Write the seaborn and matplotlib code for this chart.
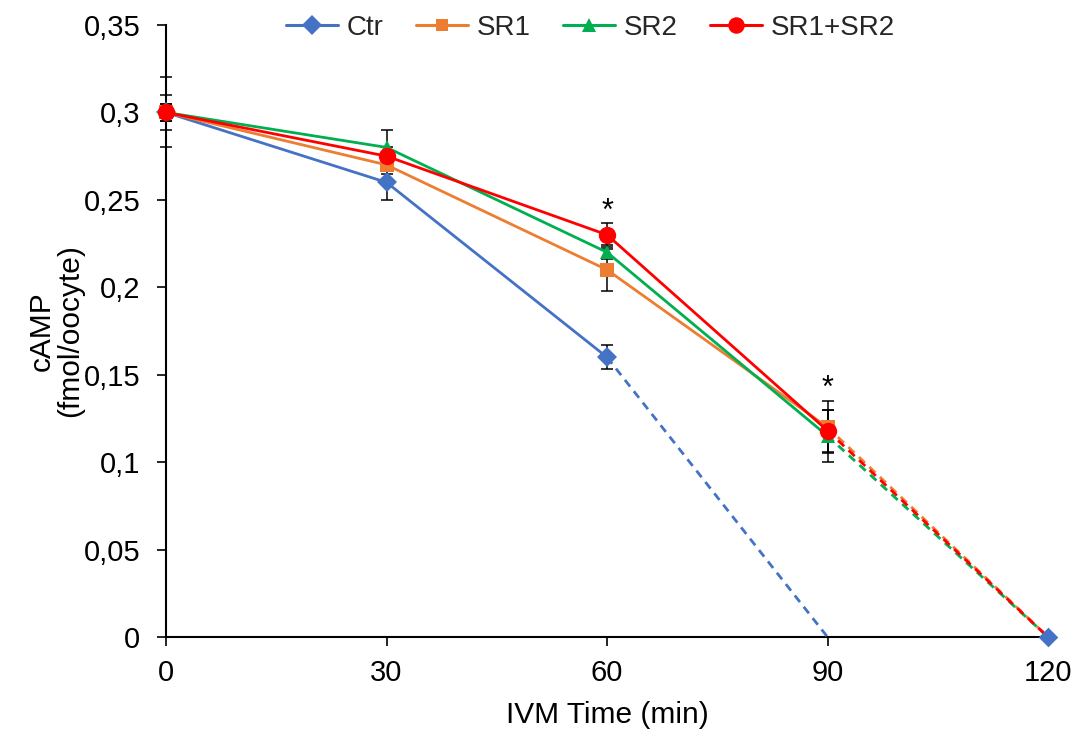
import matplotlib
matplotlib.use("Agg")
import matplotlib.pyplot as plt
import seaborn as sns
import pandas as pd
from matplotlib.ticker import FuncFormatter

# ---- data ----
times = [0, 30, 60, 90, 120]
series_names = ["Ctr", "SR1", "SR2", "SR1+SR2"]
ctr = [0.30, 0.26, 0.16, 0.0, 0.0]
sr1 = [0.30, 0.27, 0.21, 0.12, 0.0]
sr2 = [0.30, 0.28, 0.22, 0.115, 0.0]
sr12 = [0.30, 0.275, 0.23, 0.118, 0.0]
ctr_err = [0.02, 0.01, 0.007, 0.0, 0.0]
sr1_err = [0.01, 0.005, 0.012, 0.015, 0.0]
sr2_err = [0.005, 0.01, 0.004, 0.015, 0.0]
sr12_err = [0.005, 0.005, 0.007, 0.012, 0.0]
star_times = [60, 90]
star_values = [0.243, 0.142]
y_ticks = [0, 0.05, 0.1, 0.15, 0.2, 0.25, 0.3, 0.35]
x_ticks = [0, 30, 60, 90, 120]

sns.set_theme(style="white")
plt.rcParams['font.family'] = ['Liberation Sans', 'DejaVu Sans']

colors = {"Ctr": "#4472C4", "SR1": "#ED7D31", "SR2": "#00B050", "SR1+SR2": "#FF0000"}
markers = {"Ctr": "D", "SR1": "s", "SR2": "^", "SR1+SR2": "o"}
msizes = {"Ctr": 10.5, "SR1": 9.5, "SR2": 10, "SR1+SR2": 12.5}
values = {"Ctr": ctr, "SR1": sr1, "SR2": sr2, "SR1+SR2": sr12}
errs = {"Ctr": ctr_err, "SR1": sr1_err, "SR2": sr2_err, "SR1+SR2": sr12_err}
# last index of solid segment
solid_end = {"Ctr": 2, "SR1": 3, "SR2": 3, "SR1+SR2": 3}

fig = plt.figure(figsize=(10.83, 7.29), dpi=100)
ax = fig.add_axes([0.1533, 0.1262, 0.8144, 0.8395])

# error bars first (behind markers)
for name in series_names:
    n = solid_end[name] + 1
    eb = ax.errorbar(times[:n], values[name][:n], yerr=errs[name][:n], fmt="none",
                     ecolor="black", elinewidth=1.1, capsize=4.5, capthick=1.1, zorder=2)
    for art in eb.lines[1] + eb.lines[2]:
        art.set_clip_on(False)

handles = []
for i, name in enumerate(series_names):
    v = values[name]
    e = solid_end[name]
    df_solid = pd.DataFrame({"t": times[:e + 1], "v": v[:e + 1]})
    df_dash = pd.DataFrame({"t": times[e:e + 2], "v": v[e:e + 2]})
    sns.lineplot(data=df_dash, x="t", y="v", ax=ax, color=colors[name], lw=2,
                 linestyle=(0, (3, 2.2)), zorder=3 + i, clip_on=False)
    sns.lineplot(data=df_solid, x="t", y="v", ax=ax, color=colors[name], lw=2,
                 marker=markers[name], markersize=msizes[name], markeredgewidth=0,
                 zorder=3 + i, clip_on=False)
    h, = ax.plot([], [], color=colors[name], lw=2.2, marker=markers[name],
                 markersize=msizes[name] * 0.95, markeredgewidth=0)
    handles.append(h)

# Ctr marker at 120
sns.scatterplot(x=[times[4]], y=[ctr[4]], ax=ax, color=colors["Ctr"], marker="D",
                s=100, linewidth=0, zorder=10, clip_on=False)

for t, y in zip(star_times, star_values):
    ax.text(t, y, "*", ha="center", va="center", fontsize=22, color="black")

ax.set_xlim(0, 120)
ax.set_ylim(0, 0.35)
ax.set_xticks(x_ticks)
ax.set_yticks(y_ticks)
ax.yaxis.set_major_formatter(FuncFormatter(lambda v, p: ("%g" % round(v, 2)).replace(".", ",")))
ax.tick_params(axis="both", labelsize=21, direction="out", length=6.5, width=1.2,
               color="black", labelcolor="black", left=True, bottom=True)
ax.tick_params(axis="y", pad=12)
ax.tick_params(axis="x", pad=9)
for s in ["top", "right"]:
    ax.spines[s].set_visible(False)
for s in ["left", "bottom"]:
    ax.spines[s].set_color("black")
    ax.spines[s].set_linewidth(1.5)
ax.set_xlabel("IVM Time (min)", fontsize=21.5, color="black")
ax.set_ylabel("cAMP\n(fmol/oocyte)", fontsize=21.5, color="black", linespacing=1.0)
ax.xaxis.set_label_coords(0.5, -0.105)
ax.yaxis.set_label_coords(-0.093, 0.5)
ax.grid(False)

fig.legend(handles, series_names, loc="center", bbox_to_anchor=(0.545, 0.9616),
           ncol=4, frameon=False, fontsize=20, handlelength=1.9, columnspacing=1.15,
           handletextpad=0.3)

fig.savefig("out.png", dpi=100)
